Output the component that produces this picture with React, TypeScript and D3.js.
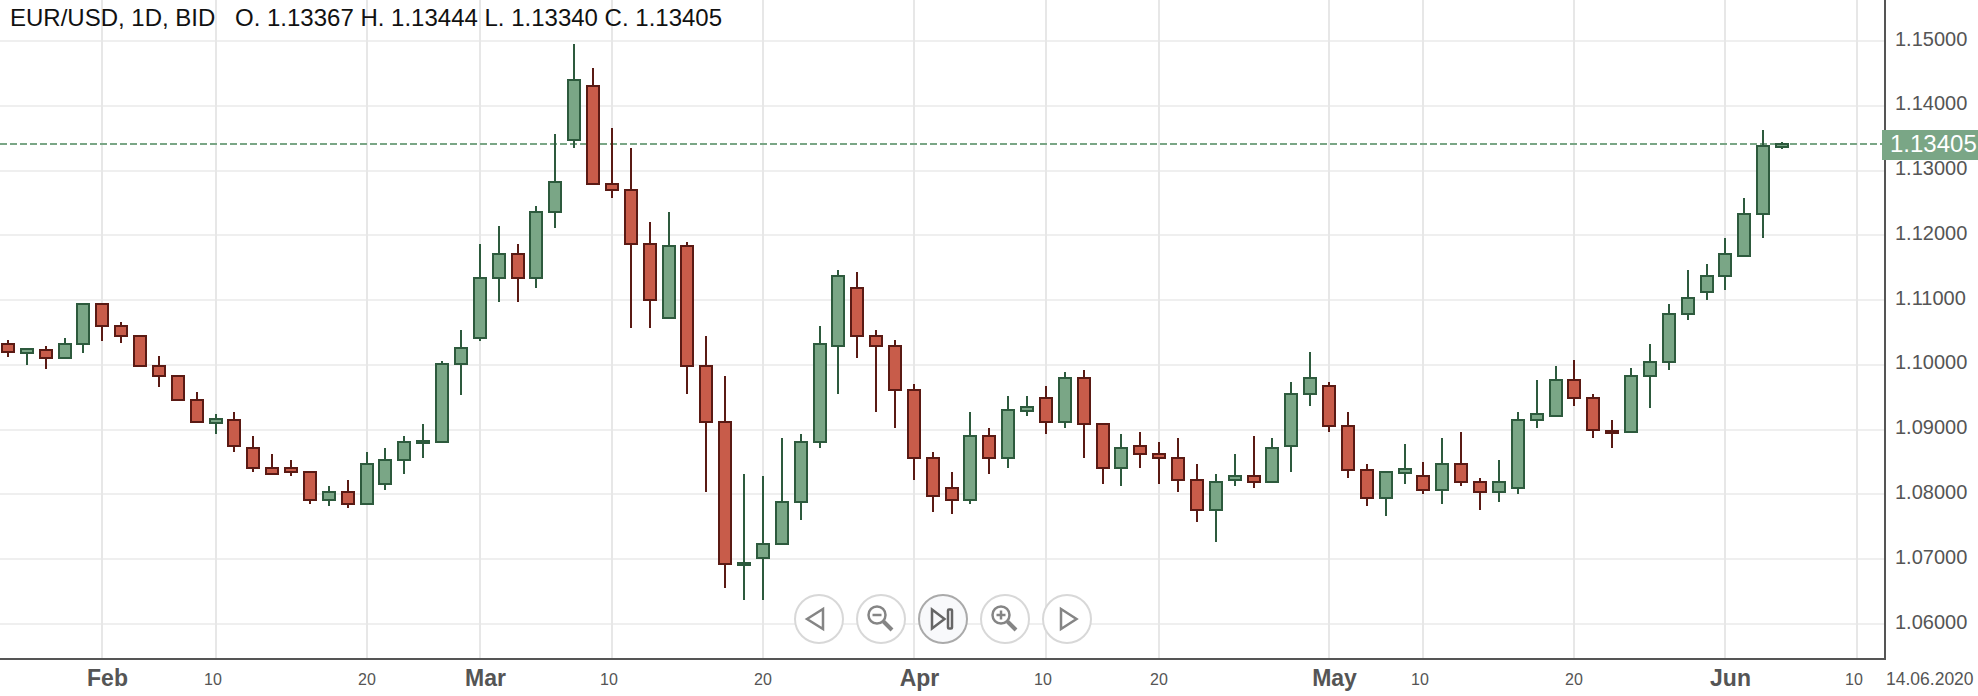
import * as React from 'react';
import { useRef, useEffect } from 'react';
import * as d3 from 'd3';

const WIDTH = 1978;
const HEIGHT = 696;

const opens = [
  1.1034, 1.10185, 1.10247, 1.10093, 1.10309, 1.10957, 1.10617, 1.10463, 1.1, 1.09846,
  1.09475, 1.09105, 1.09167, 1.08735, 1.08426, 1.08426, 1.08364, 1.07901, 1.08056, 1.0784,
  1.08148, 1.08519, 1.08796, 1.08796, 1.1, 1.10401, 1.11327, 1.11728, 1.11327, 1.12346,
  1.13457, 1.14321, 1.12809, 1.12716, 1.11883, 1.1071, 1.11852, 1.1, 1.09136, 1.06914,
  1.07006, 1.07222, 1.0787, 1.08796, 1.10278, 1.11204, 1.10463, 1.10309, 1.0963, 1.0858,
  1.08117, 1.07901, 1.0892, 1.08549, 1.0929, 1.09506, 1.09105, 1.09815, 1.09105, 1.08395,
  1.08765, 1.08642, 1.0858, 1.08241, 1.07747, 1.0821, 1.08302, 1.08179, 1.08735, 1.09537,
  1.09691, 1.09074, 1.08395, 1.07932, 1.08333, 1.08302, 1.08056, 1.08488, 1.0821, 1.08025,
  1.08086, 1.09136, 1.09198, 1.09784, 1.09506, 1.08981, 1.08951, 1.09815, 1.10031, 1.10772,
  1.11111, 1.11358, 1.11667, 1.12315, 1.13367,
];

const highs = [
  1.10386, 1.10262, 1.10293, 1.10417, 1.10957, 1.10957, 1.10664, 1.10463, 1.10139, 1.09846,
  1.09583, 1.09244, 1.09275, 1.08904, 1.08627, 1.08534, 1.08364, 1.08133, 1.08225, 1.08657,
  1.08719, 1.08904, 1.0909, 1.10062, 1.1054, 1.11867, 1.12145, 1.11867, 1.12454, 1.13565,
  1.14954, 1.14583, 1.13657, 1.13349, 1.12207, 1.12361, 1.11898, 1.10448, 1.0983, 1.08318,
  1.08287, 1.08873, 1.08935, 1.10602, 1.11466, 1.11435, 1.1054, 1.10386, 1.09707, 1.08657,
  1.08349, 1.09275, 1.09028, 1.09522, 1.09522, 1.09676, 1.09892, 1.09923, 1.09105, 1.08935,
  1.08966, 1.08812, 1.08873, 1.08472, 1.08318, 1.08627, 1.08904, 1.08873, 1.09738, 1.10201,
  1.09738, 1.09275, 1.08472, 1.08364, 1.08781, 1.08503, 1.08873, 1.08966, 1.08256, 1.08534,
  1.09275, 1.09769, 1.09985, 1.10077, 1.09552, 1.09151, 1.09954, 1.10324, 1.10941, 1.11466,
  1.11559, 1.1196, 1.12577, 1.13627, 1.13444,
];

const lows = [
  1.10123, 1.1, 1.09938, 1.10093, 1.10185, 1.1037, 1.1034, 1.09969, 1.0966, 1.09444,
  1.09105, 1.08935, 1.08657, 1.08349, 1.08302, 1.08287, 1.07855, 1.07824, 1.07793, 1.0784,
  1.08071, 1.08318, 1.08565, 1.08796, 1.09537, 1.1037, 1.10972, 1.10972, 1.11188, 1.12114,
  1.13349, 1.12778, 1.12577, 1.10571, 1.10571, 1.1071, 1.09552, 1.0804, 1.06559, 1.06374,
  1.06374, 1.07222, 1.07608, 1.08719, 1.09552, 1.10108, 1.09275, 1.09028, 1.08225, 1.07732,
  1.07701, 1.07855, 1.08318, 1.08411, 1.09213, 1.08935, 1.09028, 1.08565, 1.08164, 1.08133,
  1.08411, 1.08164, 1.0804, 1.07577, 1.07269, 1.08133, 1.08102, 1.08179, 1.08349, 1.09367,
  1.08966, 1.08256, 1.07824, 1.0767, 1.08164, 1.08009, 1.07855, 1.08133, 1.07762, 1.07886,
  1.08009, 1.09028, 1.09198, 1.09367, 1.08873, 1.08719, 1.08951, 1.09336, 1.09923, 1.10694,
  1.11003, 1.11157, 1.11667, 1.1196, 1.1334,
];

const closes = [
  1.10185, 1.10247, 1.10093, 1.1034, 1.10957, 1.10586, 1.10432, 1.09969, 1.09815, 1.09444,
  1.09105, 1.09167, 1.08735, 1.08395, 1.08302, 1.08333, 1.07901, 1.08056, 1.0784, 1.08488,
  1.08549, 1.08827, 1.08827, 1.10031, 1.10278, 1.11358, 1.11728, 1.11327, 1.12377, 1.1284,
  1.14414, 1.12778, 1.12685, 1.11852, 1.10988, 1.11852, 1.09969, 1.09105, 1.06914, 1.06945,
  1.07253, 1.07901, 1.08827, 1.1034, 1.11389, 1.10432, 1.10278, 1.09599, 1.08549, 1.07963,
  1.07901, 1.0892, 1.08549, 1.09321, 1.09352, 1.09105, 1.09815, 1.09074, 1.08395, 1.08735,
  1.08611, 1.08549, 1.0821, 1.07747, 1.0821, 1.08302, 1.08179, 1.08735, 1.09568, 1.09815,
  1.09043, 1.08364, 1.07932, 1.08364, 1.08395, 1.08056, 1.08488, 1.08179, 1.08025, 1.0821,
  1.09167, 1.09259, 1.09784, 1.09475, 1.08981, 1.08951, 1.09846, 1.10062, 1.10803, 1.11049,
  1.11389, 1.11728, 1.12346, 1.13395, 1.13405,
];

const priceTicks = [1.06, 1.07, 1.08, 1.09, 1.1, 1.11, 1.12, 1.13, 1.14, 1.15];
const dateTickIndex = [5, 11, 19, 25, 32, 40, 48, 55, 61, 70, 75, 83, 91, 98];
const dateTickLabels = ['Feb', '10', '20', 'Mar', '10', '20', 'Apr', '10', '20', 'May', '10', '20', 'Jun', '10'];

const lastPrice = 1.13405;
const titleLeft = 'EUR/USD, 1D, BID';
const titleRight = 'O. 1.13367 H. 1.13444 L. 1.13340 C. 1.13405';
const endDate = '14.06.2020';

const GREEN = '#7aa686';
const GREEN_DARK = '#2d5a3d';
const RED = '#c85c4a';
const RED_DARK = '#5a1a14';
const AXIS = '#555555';
const FONT = '"Liberation Sans", Arial, sans-serif';

const navButtons = ['left', 'zoomOut', 'end', 'zoomIn', 'right'];

const App: React.FC = () => {
  const svgRef = useRef<SVGSVGElement>(null);

  useEffect(() => {
    if (!svgRef.current) return;
    const svg = d3.select(svgRef.current);
    svg.selectAll('*').remove();

    const plotRight = 1885;
    const plotBottom = 659;

    const x = d3.scaleLinear().domain([0, 94]).range([8, 1782]).interpolate(d3.interpolateRound);
    const y = d3.scaleLinear().domain([1.06, 1.15]).range([624, 41]);
    const yPx = (v: number) => Math.round(y(v));

    svg.append('rect').attr('width', WIDTH).attr('height', HEIGHT).attr('fill', '#fff');

    // grid
    svg.append('g').selectAll('line')
      .data(priceTicks)
      .enter()
      .append('line')
      .attr('x1', 0).attr('x2', plotRight)
      .attr('y1', d => yPx(d)).attr('y2', d => yPx(d))
      .attr('stroke', '#efefef').attr('stroke-width', 2);

    svg.append('g').selectAll('line')
      .data(dateTickIndex)
      .enter()
      .append('line')
      .attr('x1', d => x(d)).attr('x2', d => x(d))
      .attr('y1', 0).attr('y2', plotBottom)
      .attr('stroke', '#e7e7e7').attr('stroke-width', 2);

    // last price line
    svg.append('line')
      .attr('x1', 0).attr('x2', plotRight)
      .attr('y1', yPx(lastPrice)).attr('y2', yPx(lastPrice))
      .attr('stroke', GREEN).attr('stroke-width', 2)
      .attr('stroke-dasharray', '7 3');

    // candles
    const candles = opens.map((o, i) => ({ i, o, h: highs[i], l: lows[i], c: closes[i] }));
    const g = svg.append('g').selectAll('g')
      .data(candles)
      .enter()
      .append('g');

    g.append('line')
      .attr('x1', d => x(d.i)).attr('x2', d => x(d.i))
      .attr('y1', d => yPx(d.h)).attr('y2', d => yPx(d.l))
      .attr('stroke', d => (d.c >= d.o ? GREEN_DARK : RED_DARK))
      .attr('stroke-width', 2);

    // bodies above 4px were read to the outer edge of the stroke, so pull them in by it
    const bodyHeight = (d: { o: number; c: number }) => {
      const span = Math.abs(yPx(d.o) - yPx(d.c));
      return span > 4 ? span - 2 : Math.max(span, 2);
    };

    g.append('rect')
      .attr('x', d => x(d.i) - 6)
      .attr('width', 12)
      .attr('y', d => Math.round((yPx(d.o) + yPx(d.c)) / 2 - bodyHeight(d) / 2))
      .attr('height', d => bodyHeight(d))
      .attr('fill', d => (d.c >= d.o ? GREEN : RED))
      .attr('stroke', d => (d.c >= d.o ? GREEN_DARK : RED_DARK))
      .attr('stroke-width', 2);

    // axes
    const yAxis = svg.append('g')
      .attr('transform', `translate(${plotRight},0)`)
      .call(d3.axisRight(y).tickValues(priceTicks).tickFormat(d3.format('.5f') as any).tickSize(0).tickPadding(10));
    yAxis.select('.domain').remove();
    yAxis.selectAll('text')
      .attr('dy', '0.2em')
      .attr('font-family', FONT)
      .attr('font-size', 20)
      .attr('fill', AXIS);

    const xAxis = svg.append('g')
      .attr('transform', `translate(0,${plotBottom})`)
      .call(d3.axisBottom(x).tickValues(dateTickIndex).tickFormat((_, i) => dateTickLabels[i]).tickSize(0));
    xAxis.select('.domain').remove();
    xAxis.selectAll<SVGTextElement, number>('text')
      .attr('font-family', FONT)
      .attr('fill', AXIS)
      .each(function (_, i) {
        const label = dateTickLabels[i];
        const isMonth = label.length > 2;
        d3.select(this)
          .attr('x', isMonth ? 5 : label === '20' ? -0.5 : -3.5)
          .attr('y', isMonth ? 27 : 26)
          .attr('dy', 0)
          .attr('font-size', isMonth ? 23 : 16)
          .attr('font-weight', isMonth ? 700 : 400);
      });

    svg.append('line')
      .attr('x1', 0).attr('x2', plotRight + 1)
      .attr('y1', plotBottom).attr('y2', plotBottom)
      .attr('stroke', AXIS).attr('stroke-width', 2);
    svg.append('line')
      .attr('x1', plotRight).attr('x2', plotRight)
      .attr('y1', 0).attr('y2', plotBottom)
      .attr('stroke', AXIS).attr('stroke-width', 2);

    svg.append('text')
      .attr('x', 1886).attr('y', 685)
      .attr('font-family', FONT).attr('font-size', 17.5).attr('fill', AXIS)
      .text(endDate);

    // price tag
    svg.append('rect')
      .attr('x', 1882).attr('y', 130)
      .attr('width', 96).attr('height', 30)
      .attr('fill', GREEN);
    svg.append('text')
      .attr('x', 1890).attr('y', y(lastPrice) + 8)
      .attr('font-family', FONT).attr('font-size', 24).attr('fill', '#fff')
      .text(d3.format('.5f')(lastPrice));

    // title
    svg.append('text')
      .attr('x', 10).attr('y', 26)
      .attr('font-family', FONT).attr('font-size', 24).attr('fill', '#111')
      .text(titleLeft);
    svg.append('text')
      .attr('x', 235).attr('y', 26)
      .attr('font-family', FONT).attr('font-size', 24).attr('fill', '#111')
      .text(titleRight);

    // nav buttons
    const nav = svg.append('g').selectAll('g')
      .data(navButtons)
      .enter()
      .append('g')
      .attr('transform', (_, i) => `translate(${819 + i * 62},619)`);

    nav.append('circle')
      .attr('r', 24)
      .attr('fill', d => (d === 'end' ? '#f8f9fb' : '#fff'))
      .attr('stroke', d => (d === 'end' ? '#aaaaaa' : '#d8d8d8'))
      .attr('stroke-width', 2);

    const icon = '#858585';
    const addIcon = (name: string, draw: (s: d3.Selection<any, any, any, any>) => void) => {
      const sel = nav.filter(d => d === name).append('g')
        .attr('fill', 'none').attr('stroke', icon).attr('stroke-width', 2.5);
      draw(sel);
    };
    addIcon('left', s => { s.append('path').attr('d', 'M-12,0 L4,-10 L4,10 Z'); });
    addIcon('right', s => { s.append('path').attr('d', 'M-6,-10 L9.5,0 L-6,10 Z'); });
    addIcon('end', s => {
      s.append('path').attr('d', 'M-11,-9.5 L1.5,0 L-11,9.5 Z').attr('stroke', '#666');
      s.append('rect').attr('x', 5).attr('y', -9.5).attr('width', 4).attr('height', 19).attr('rx', 1).attr('stroke', '#666');
    });
    const magnifier = (s: d3.Selection<any, any, any, any>, plus: boolean) => {
      s.append('circle').attr('cx', -4).attr('cy', -4).attr('r', 8.5);
      s.append('path').attr('d', 'M2.5,2.5 L11,11').attr('stroke-width', 4);
      s.append('path').attr('d', 'M-8.5,-4 L0.5,-4');
      if (plus) s.append('path').attr('d', 'M-4,-8.5 L-4,0.5');
    };
    addIcon('zoomOut', s => magnifier(s, false));
    addIcon('zoomIn', s => magnifier(s, true));
  }, []);

  return (
    <svg
      ref={svgRef}
      width={WIDTH}
      height={HEIGHT}
      style={{ position: 'absolute', left: 0, top: 0, display: 'block' }}
    />
  );
};

export default App;
